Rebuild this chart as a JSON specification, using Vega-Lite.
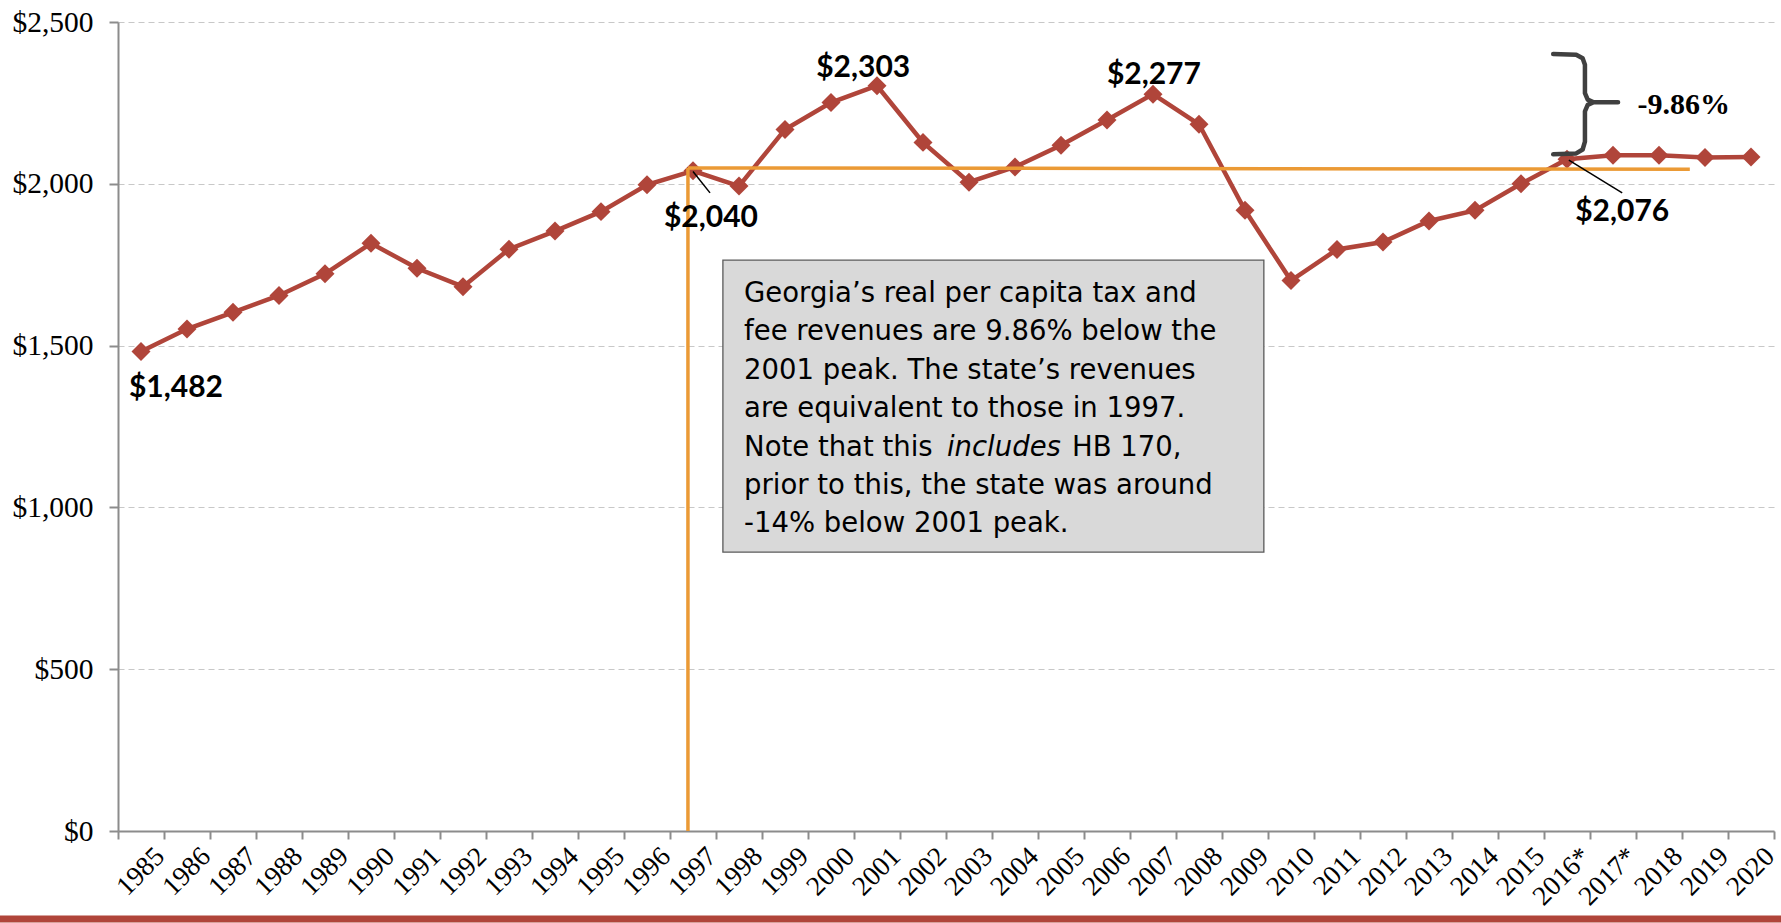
{
  "$schema": "https://vega.github.io/schema/vega-lite/v6.json",
  "width": 1656,
  "height": 809,
  "autosize": "none",
  "padding": {"left": 118, "top": 22, "right": 7, "bottom": 92},
  "background": "white",
  "config": {"view": {"stroke": null}, "font": "Liberation Serif"},
  "datasets": {
    "series": [
      {"year": "1985", "value": 1482}, {"year": "1986", "value": 1551}, {"year": "1987", "value": 1603},
      {"year": "1988", "value": 1655}, {"year": "1989", "value": 1722}, {"year": "1990", "value": 1816},
      {"year": "1991", "value": 1739}, {"year": "1992", "value": 1682}, {"year": "1993", "value": 1798},
      {"year": "1994", "value": 1854}, {"year": "1995", "value": 1914}, {"year": "1996", "value": 1997},
      {"year": "1997", "value": 2040}, {"year": "1998", "value": 1993}, {"year": "1999", "value": 2168},
      {"year": "2000", "value": 2251}, {"year": "2001", "value": 2303}, {"year": "2002", "value": 2128},
      {"year": "2003", "value": 2005}, {"year": "2004", "value": 2052}, {"year": "2005", "value": 2119},
      {"year": "2006", "value": 2197}, {"year": "2007", "value": 2277}, {"year": "2008", "value": 2184},
      {"year": "2009", "value": 1918}, {"year": "2010", "value": 1701}, {"year": "2011", "value": 1797},
      {"year": "2012", "value": 1820}, {"year": "2013", "value": 1885}, {"year": "2014", "value": 1918},
      {"year": "2015", "value": 2000}, {"year": "2016*", "value": 2076}, {"year": "2017*", "value": 2088},
      {"year": "2018", "value": 2088}, {"year": "2019", "value": 2081}, {"year": "2020", "value": 2083}
    ],
    "labels": [
      {"x": 1985.76, "y": 1341, "text": "$1,482"},
      {"x": 1997.39, "y": 1866, "text": "$2,040"},
      {"x": 2000.70, "y": 2330, "text": "$2,303"},
      {"x": 2007.02, "y": 2308, "text": "$2,277"},
      {"x": 2017.20, "y": 1885, "text": "$2,076"}
    ],
    "pct": [{"x": 2018.54, "y": 2216, "text": "-9.86%"}],
    "leaders": [
      {"x": 1997.0, "y": 2038, "x2": 1997.37, "y2": 1972},
      {"x": 2016.04, "y": 2073, "x2": 2017.2, "y2": 1972}
    ],
    "orange": [
      {"x": 1996.89, "y": 0, "x2": 1996.89, "y2": 2049},
      {"x": 1996.89, "y": 2049, "x2": 2018.67, "y2": 2045}
    ],
    "box": [{"x": 1997.65, "x2": 2009.41, "y": 862, "y2": 1764}],
    "boxtext": [
      {"x": 1998.11, "y": 1635, "text": "Georgia\u2019s real per capita tax and"},
      {"x": 1998.11, "y": 1517, "text": "fee revenues are 9.86% below the"},
      {"x": 1998.11, "y": 1397, "text": "2001 peak. The state\u2019s revenues"},
      {"x": 1998.11, "y": 1279, "text": "are equivalent to those in 1997."},
      {"x": 1998.11, "y": 1159, "text": "Note that this"},
      {"x": 2005.24, "y": 1159, "text": "HB 170,"},
      {"x": 1998.11, "y": 1041, "text": "prior to this, the state was around"},
      {"x": 1998.11, "y": 924, "text": "-14% below 2001 peak."}
    ],
    "boxitalic": [
      {"x": 2002.52, "y": 1159, "text": "includes"}
    ],
    "brace": [
      {"o": 1, "x": 2015.70, "y": 2401}, {"o": 2, "x": 2016.20, "y": 2399}, {"o": 3, "x": 2016.34, "y": 2388},
      {"o": 4, "x": 2016.39, "y": 2368}, {"o": 5, "x": 2016.39, "y": 2280}, {"o": 6, "x": 2016.45, "y": 2260},
      {"o": 7, "x": 2016.58, "y": 2252}, {"o": 8, "x": 2017.11, "y": 2252}, {"o": 9, "x": 2016.58, "y": 2252},
      {"o": 10, "x": 2016.45, "y": 2244}, {"o": 11, "x": 2016.39, "y": 2224}, {"o": 12, "x": 2016.39, "y": 2130},
      {"o": 13, "x": 2016.34, "y": 2106}, {"o": 14, "x": 2016.20, "y": 2094}, {"o": 15, "x": 2015.70, "y": 2091}
    ],
    "bar": [{"x": 1981.9, "x2": 2020.7, "y": -272}]
  },
  "layer": [
    {
      "data": {"name": "series"},
      "encoding": {
        "x": {
          "field": "year", "type": "ordinal", "sort": null,
          "scale": {"type": "band", "paddingInner": 0, "paddingOuter": 0},
          "axis": {
            "title": null, "labelAngle": -45, "labelFont": "Liberation Serif", "labelFontSize": 27.5,
            "labelColor": "black", "tickBand": "extent", "tickSize": 8, "tickColor": "#8c8c8c", "tickWidth": 2,
            "domainColor": "#8c8c8c", "domainWidth": 2, "labelAlign": "right", "labelBaseline": "top",
            "labelPadding": 3, "labelOffset": 9, "grid": false
          }
        },
        "y": {
          "field": "value", "type": "quantitative", "scale": {"domain": [0, 2500]},
          "axis": {
            "title": null, "values": [0, 500, 1000, 1500, 2000, 2500], "format": "$,.0f",
            "labelFont": "Liberation Serif", "labelFontSize": 29.5, "labelColor": "black",
            "tickSize": 9, "tickColor": "#8c8c8c", "tickWidth": 2, "domainColor": "#8c8c8c", "domainWidth": 2,
            "labelPadding": 16, "grid": true, "gridDash": [6, 4], "gridColor": "#c8c8c8", "gridWidth": 1.2
          }
        }
      },
      "layer": [
        {"mark": {"type": "line", "color": "#b0453a", "strokeWidth": 4.5}},
        {"mark": {"type": "point", "shape": "diamond", "filled": true, "size": 360, "color": "#b0453a", "opacity": 1}}
      ]
    },
    {
      "layer": [
        {
          "data": {"name": "orange"},
          "mark": {"type": "rule", "color": "#eb9a35", "strokeWidth": 3.5},
          "encoding": {
            "x": {"field": "x", "type": "quantitative", "scale": {"domain": [1984.5, 2020.5]}, "axis": null},
            "x2": {"field": "x2"},
            "y": {"field": "y", "type": "quantitative", "scale": {"domain": [0, 2500]}, "axis": null},
            "y2": {"field": "y2"}
          }
        },
        {
          "data": {"name": "leaders"},
          "mark": {"type": "rule", "color": "black", "strokeWidth": 1.5},
          "encoding": {
            "x": {"field": "x", "type": "quantitative", "scale": {"domain": [1984.5, 2020.5]}, "axis": null},
            "x2": {"field": "x2"},
            "y": {"field": "y", "type": "quantitative", "scale": {"domain": [0, 2500]}, "axis": null},
            "y2": {"field": "y2"}
          }
        },
        {
          "data": {"name": "box"},
          "mark": {"type": "rect", "fill": "#d9d9d9", "stroke": "#5a5a5a", "strokeWidth": 1.3},
          "encoding": {
            "x": {"field": "x", "type": "quantitative", "scale": {"domain": [1984.5, 2020.5]}, "axis": null},
            "x2": {"field": "x2"},
            "y": {"field": "y", "type": "quantitative", "scale": {"domain": [0, 2500]}, "axis": null},
            "y2": {"field": "y2"}
          }
        },
        {
          "data": {"name": "boxtext"},
          "mark": {"type": "text", "font": "DejaVu Sans", "fontSize": 27.5, "align": "left", "baseline": "alphabetic", "color": "black"},
          "encoding": {
            "x": {"field": "x", "type": "quantitative", "scale": {"domain": [1984.5, 2020.5]}, "axis": null},
            "y": {"field": "y", "type": "quantitative", "scale": {"domain": [0, 2500]}, "axis": null},
            "text": {"field": "text"}
          }
        },
        {
          "data": {"name": "boxitalic"},
          "mark": {"type": "text", "font": "DejaVu Sans", "fontStyle": "italic", "fontSize": 27.5, "align": "left", "baseline": "alphabetic", "color": "black"},
          "encoding": {
            "x": {"field": "x", "type": "quantitative", "scale": {"domain": [1984.5, 2020.5]}, "axis": null},
            "y": {"field": "y", "type": "quantitative", "scale": {"domain": [0, 2500]}, "axis": null},
            "text": {"field": "text"}
          }
        },
        {
          "data": {"name": "labels"},
          "mark": {"type": "text", "font": "Lato", "fontWeight": "bold", "fontSize": 30, "align": "center", "baseline": "alphabetic", "color": "black"},
          "encoding": {
            "x": {"field": "x", "type": "quantitative", "scale": {"domain": [1984.5, 2020.5]}, "axis": null},
            "y": {"field": "y", "type": "quantitative", "scale": {"domain": [0, 2500]}, "axis": null},
            "text": {"field": "text"}
          }
        },
        {
          "data": {"name": "pct"},
          "mark": {"type": "text", "font": "Liberation Serif", "fontWeight": "bold", "fontSize": 30, "align": "center", "baseline": "alphabetic", "color": "black"},
          "encoding": {
            "x": {"field": "x", "type": "quantitative", "scale": {"domain": [1984.5, 2020.5]}, "axis": null},
            "y": {"field": "y", "type": "quantitative", "scale": {"domain": [0, 2500]}, "axis": null},
            "text": {"field": "text"}
          }
        },
        {
          "data": {"name": "brace"},
          "mark": {"type": "line", "color": "#404040", "strokeWidth": 4.5, "strokeJoin": "round", "strokeCap": "round"},
          "encoding": {
            "x": {"field": "x", "type": "quantitative", "scale": {"domain": [1984.5, 2020.5]}, "axis": null},
            "y": {"field": "y", "type": "quantitative", "scale": {"domain": [0, 2500]}, "axis": null},
            "order": {"field": "o", "type": "quantitative"}
          }
        },
        {
          "data": {"name": "bar"},
          "mark": {"type": "rule", "color": "#b0453a", "strokeWidth": 7},
          "encoding": {
            "x": {"field": "x", "type": "quantitative", "scale": {"domain": [1984.5, 2020.5]}, "axis": null},
            "x2": {"field": "x2"},
            "y": {"field": "y", "type": "quantitative", "scale": {"domain": [0, 2500]}, "axis": null}
          }
        }
      ]
    }
  ],
  "resolve": {"scale": {"x": "independent", "y": "independent"}}
}
